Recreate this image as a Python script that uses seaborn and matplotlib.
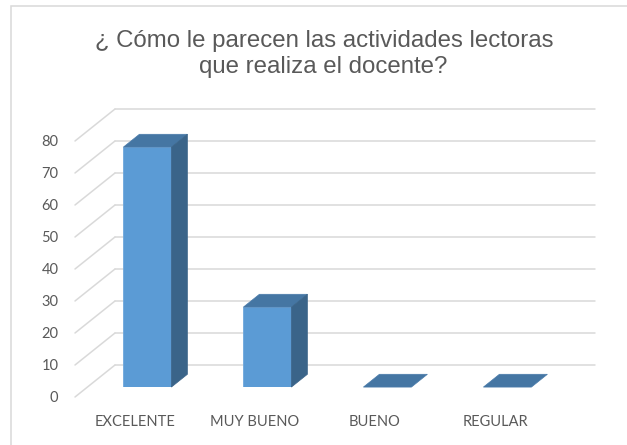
import numpy as np
import pandas as pd
import matplotlib
matplotlib.use("Agg")
import matplotlib.pyplot as plt
import seaborn as sns
from matplotlib.patches import Polygon, Rectangle

categories = ["EXCELENTE", "MUY BUENO", "BUENO", "REGULAR"]
values = [75, 25, 0, 0]
y_ticks = [0, 10, 20, 30, 40, 50, 60, 70, 80]
title_lines = ["¿ Cómo le parecen las actividades lectoras", "que realiza el docente?"]

df = pd.DataFrame({"categoria": categories, "valor": values})

sns.set_style("white")
plt.rcParams["font.family"] = ["Liberation Sans", "DejaVu Sans"]

W, H = 627, 445
fig = plt.figure(figsize=(W / 100, H / 100), dpi=100)

# depth shift per unit of depth: 1/3 category in x, 10 units in y
DX, DY = 1 / 3, 10
Z_BAR = 0.31   # where the bars' front face sits
Z_DEP = 0.40   # how deep the bars are

# front plane axes (ticks and labels live here)
left, right, y0, y80 = 75, 555, 397, 141
ax = fig.add_axes([left / W, (H - y0) / H, (right - left) / W, (y0 - y80) / H])
ax.set_xlim(-0.5, 3.5)
ax.set_ylim(0, 80)
ax.patch.set_alpha(0)
for s in ax.spines.values():
    s.set_visible(False)

grid_c = "#d9d9d9"
for v in y_ticks:
    ax.plot([-0.5, -0.5 + DX], [v, v + DY], color=grid_c, lw=1.1, clip_on=False, zorder=0)
    ax.plot([-0.5 + DX, 3.5 + DX], [v + DY, v + DY], color=grid_c, lw=1.1, clip_on=False, zorder=0)

ax.set_yticks(y_ticks)
ax.set_xticks(range(len(categories)))
ax.set_xticklabels(categories)
ax.tick_params(axis="y", length=0, pad=12, labelsize=10.5, labelcolor="#595959")
ax.tick_params(axis="x", length=0, pad=13, labelsize=10.5, labelcolor="#595959")
for lab in ax.get_xticklabels() + ax.get_yticklabels():
    lab.set_family(["Lato", "DejaVu Sans"])

# bar plane axes, shifted back by Z_BAR
px_x = (right - left) / 4 * DX * Z_BAR
px_y = (y0 - y80) / 80 * DY * Z_BAR
axb = fig.add_axes([(left + px_x) / W, (H - y0 + px_y) / H, (right - left) / W, (y0 - y80) / H])
sns.barplot(data=df, x="categoria", y="valor", ax=axb, width=0.4,
            color="#5b9bd5", saturation=1, edgecolor="#6fa8dc", linewidth=0.6)
axb.set_xlim(-0.5, 3.5)
axb.set_ylim(0, 80)
axb.axis("off")
axb.patch.set_alpha(0)

sx, sy = DX * Z_DEP, DY * Z_DEP
for p in list(axb.patches):
    x, y, w, h = p.get_x(), p.get_y(), p.get_width(), p.get_height()
    top = [(x, y + h), (x + w, y + h), (x + w + sx, y + h + sy), (x + sx, y + h + sy)]
    axb.add_patch(Polygon(top, closed=True, facecolor="#4576a3", edgecolor="#4a7cab",
                          lw=0.5, clip_on=False, zorder=3))
    if h > 0:
        side = [(x + w, y), (x + w + sx, y + sy), (x + w + sx, y + h + sy), (x + w, y + h)]
        axb.add_patch(Polygon(side, closed=True, facecolor="#3a6489", edgecolor="#3a6489",
                              lw=0.5, clip_on=False, zorder=3))

fig.text(324 / W, 1 - 47 / H, title_lines[0],
         ha="center", va="baseline", fontsize=17.3, color="#595959")
fig.text(323 / W, 1 - 73 / H, title_lines[1],
         ha="center", va="baseline", fontsize=17.3, color="#595959")

# chart area border
fig.patches.append(Rectangle((11 / W, -0.05), 1.1, 1 - 6 / H + 0.05, transform=fig.transFigure,
                             fill=False, edgecolor=grid_c, lw=1.1))

fig.savefig("out.png", dpi=100, facecolor="white")
